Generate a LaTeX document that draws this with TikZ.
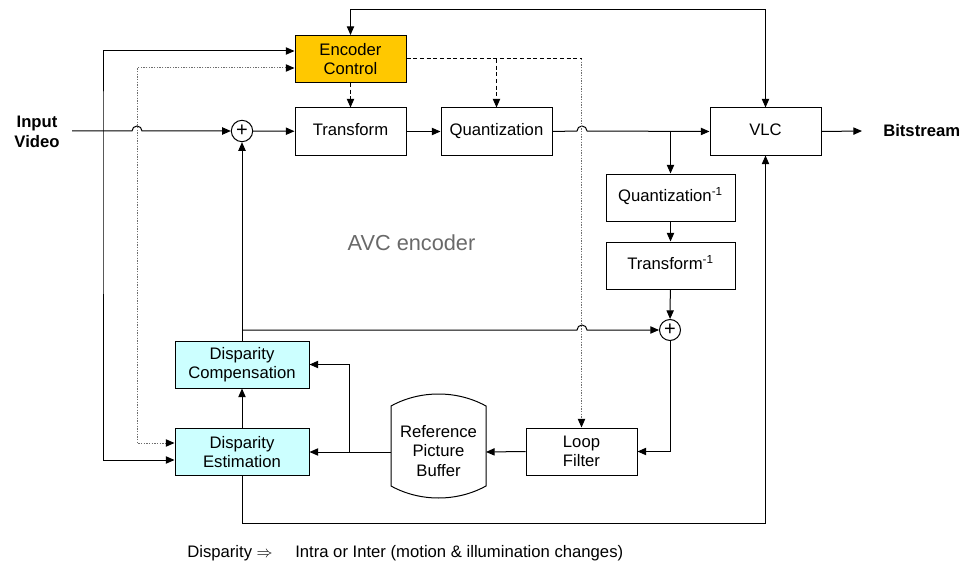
\documentclass[tikz,border=0pt]{standalone}
\usepackage{fontspec}
\setmainfont{Liberation Sans}
\usetikzlibrary{arrows.meta}
\definecolor{ctrlfill}{RGB}{255,200,0}
\definecolor{dispfill}{RGB}{204,255,255}
\definecolor{dotgray}{RGB}{110,110,110}
\definecolor{labelgray}{RGB}{105,105,105}
\tikzset{
  every node/.style={font=\fontsize{12.5}{14.5}\selectfont},
  blk/.style={draw=black, line width=0.75pt, inner sep=0pt, align=center,
              minimum width=83.25pt, minimum height=35.25pt},
  wideblk/.style={blk, minimum width=96.75pt},
  dispblk/.style={blk, minimum width=100.5pt, fill=dispfill},
  summer/.style={draw=black, line width=0.75pt, circle, inner sep=0pt,
                 minimum size=16pt, font=\fontsize{15}{15}\selectfont},
  tip/.tip={Triangle[length=6.5pt,width=5.5pt,color=black]},
  conn/.style={line width=0.75pt, -tip},
  line/.style={line width=0.75pt},
  ctrldash/.style={line width=0.75pt, dash pattern=on 3pt off 2pt},
  ctrldot/.style={line width=0.75pt, dotgray, dash pattern=on 1pt off 1pt},
}
\begin{document}
\begin{tikzpicture}[x=0.75pt,y=-0.75pt]
\useasboundingbox (0,0) rectangle (968,567);

% processing blocks
\node[blk, fill=ctrlfill] (enc) at (350.5,59) {Encoder\\Control};
\node[blk] (tr) at (350.5,131.5) {\strut Transform};
\node[blk] (qu) at (496.5,131.5) {\strut Quantization};
\node[blk] (vlc) at (765.5,131.5) {\strut VLC};
\node[wideblk] (qi) at (670.5,197.5) {\strut Quantization\textsuperscript{-1}};
\node[wideblk] (ti) at (670.5,265.5) {\strut Transform\textsuperscript{-1}};
\node[blk] (lf) at (581.5,451.5) {Loop\\Filter};
\node[dispblk] (dc) at (242,364.5) {Disparity\\Compensation};
\node[dispblk] (de) at (242,452) {Disparity\\Estimation};
\node[summer] (s1) at (242,131) {+};
\node[summer, minimum size=15.75pt] (s2) at (670,330) {+};

% reference picture buffer (storage shape)
\draw[line] (391,406) .. controls (420,390) and (457,390) .. (486,406)
  -- (486,486) .. controls (457,502) and (420,502) .. (391,486) -- cycle;
\node[align=center] (rpb) at (438.5,451) {Reference\\Picture\\Buffer};
\coordinate (rpbL) at (391,452);
\coordinate (rpbR) at (486,452);

% labels
\node[font=\fontsize{12.5}{14.5}\selectfont\bfseries, align=center] (invid) at (37,132) {Input\\Video};
\node[font=\fontsize{12.5}{14.5}\selectfont\bfseries, anchor=west, inner sep=0pt] (bs) at (883,131) {Bitstream};
\node[font=\fontsize{16.3}{18}\selectfont, text=labelgray] (avc) at (411.5,242.5) {AVC encoder};
\node[anchor=west, inner sep=0pt] (dlab) at (187,553) {Disparity $\Rightarrow$};
\node[anchor=west, inner sep=0pt] (dtxt) at (295,553) {Intra or Inter (motion \& illumination changes)};

% helper points
\coordinate (in) at (72,131);
\coordinate (split) at (103,131);
\coordinate (topy) at (0,10);
\coordinate (boty) at (0,523);
\coordinate (bsend) at (862,131);
\coordinate (br1) at (qi.north |- qu.east);
\coordinate (br2) at (dc.north |- s2.west);
\coordinate (br3) at (349,452);
\coordinate (ctlq) at (qu.north |- enc.east);
\coordinate (ctll) at (lf.north |- enc.east);

% input video path with hop over the control line
\draw[conn] (in) -- (132,131) arc[start angle=180, end angle=0, radius=3.75pt] -- (s1.west);
\draw[line, tip-tip]
  ([yshift=6pt]enc.west) -| (split) |- ([yshift=-6pt]de.west);

% forward path
\draw[conn] (s1) -- (tr);
\draw[conn] (tr) -- (qu);
\draw[conn] (qu.east) -- (577,131) arc[start angle=180, end angle=0, radius=3.75pt] -- (vlc.west);
\draw[conn] (vlc.east) -- (bsend);

% reconstruction loop
\draw[conn] (br1) -- (qi.north);
\draw[conn] (qi) -- (ti);
\draw[conn] (ti) -- (s2);
\draw[conn] (s2.south) |- (lf.east);
\draw[conn] (lf.west) -- (rpbR);
\draw[conn] (rpbL) -- (de.east);
\draw[conn] (br3) |- (dc.east);
\draw[conn] (de) -- (dc);
\draw[conn] (dc.north) -- (s1.south);
\draw[conn] (br2) -- (577,330) arc[start angle=180, end angle=0, radius=3.75pt] -- (s2.west);
\draw[conn] (de.south) -- (de.south |- boty) -| (vlc.south);

% rate feedback between VLC and encoder control
\draw[line, tip-tip]
  (enc.north) -- (enc.north |- topy) -| (vlc.north);

% control signals
\draw[ctrldash, -tip] (enc.south) -- (tr.north);
\draw[ctrldash] (enc.east) -- (ctll);
\draw[ctrldash, -tip] (ctlq) -- (qu.north);
\draw[ctrldot, -tip] (ctll) -- (lf.north);
\draw[ctrldot, tip-tip]
  ([yshift=-6.75pt]enc.west) -| (137,300) |- ([yshift=6.75pt]de.west);
\end{tikzpicture}
\end{document}
